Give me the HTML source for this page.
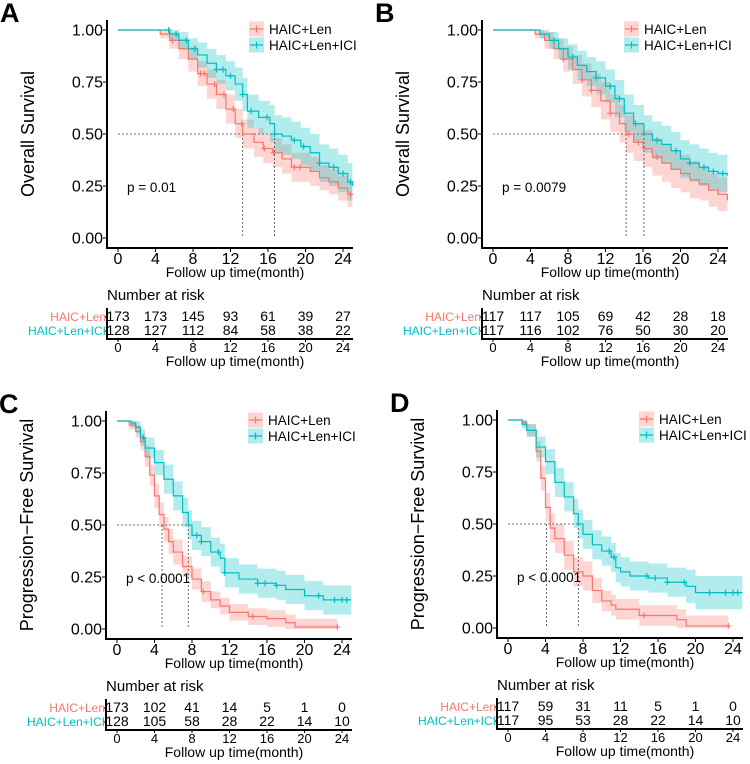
<!DOCTYPE html>
<html><head><meta charset="utf-8"><style>
body{margin:0;background:#fff}
svg{display:block;font-family:"Liberation Sans",sans-serif}
</style></head><body>
<svg id="chart" width="750" height="764" viewBox="0 0 750 764" xmlns="http://www.w3.org/2000/svg"></svg>
<script>
const xTicks=[0,4,8,12,16,20,24];
const yTicks=[0,0.25,0.5,0.75,1];
const yTickLabels=["0.00","0.25","0.50","0.75","1.00"];
const groupNames=["HAIC+Len","HAIC+Len+ICI"];
// Panel A OS
const aLenT=[0,4.5,5.5,6.5,7.5,8.5,9.5,10.5,11.5,12.5,13.3,14.5,15.5,16.5,17.5,18.5,20.5,21.5,22.5,23.5,24.5,25];
const aLenS=[1,0.98,0.95,0.91,0.86,0.79,0.74,0.69,0.62,0.55,0.50,0.46,0.43,0.41,0.38,0.34,0.32,0.29,0.27,0.24,0.21,0.21];
const aLenW=[0,0.02,0.04,0.05,0.06,0.06,0.07,0.07,0.07,0.07,0.07,0.07,0.07,0.07,0.07,0.07,0.07,0.06,0.06,0.06,0.06,0.06];
const aIciT=[0,5.5,6.5,7.5,8.5,9.5,10.5,11.5,12.5,13.3,13.8,15,16.2,16.7,17.5,18.5,19.5,20.5,21.5,22.5,23.5,24.5,25];
const aIciS=[1,0.98,0.95,0.91,0.88,0.84,0.81,0.78,0.74,0.69,0.61,0.58,0.55,0.50,0.49,0.47,0.44,0.41,0.36,0.34,0.31,0.27,0.25];
const aIciW=[0,0.03,0.04,0.05,0.06,0.07,0.07,0.07,0.08,0.08,0.08,0.08,0.09,0.09,0.09,0.09,0.09,0.09,0.09,0.09,0.09,0.09,0.09];
const aLenC=[5.8,8.8,9.2,10.3,11.3,12.3,13.2,15.6,16.6,18.8,19.4,24.8];
const aIciC=[5.4,6.2,7.3,8.2,10.5,11.2,12,13.3,14.2,15.9,16.7,18.8,19.8,21.5,23,24,24.8];
// Panel B OS
const bLenT=[0,4.5,5.5,6.5,7.5,8.5,9.5,10.5,11.5,12.5,13.5,14.2,15,16,17,18,19,20,21,22,23,24,25];
const bLenS=[1,0.98,0.95,0.91,0.86,0.81,0.76,0.71,0.66,0.60,0.55,0.50,0.46,0.43,0.39,0.36,0.33,0.31,0.28,0.26,0.23,0.21,0.18];
const bLenW=[0,0.02,0.04,0.05,0.06,0.07,0.08,0.08,0.09,0.09,0.09,0.09,0.09,0.09,0.09,0.09,0.09,0.09,0.09,0.08,0.08,0.08,0.08];
const bIciT=[0,5,6,7,8,9,10,11,12,13,14,15,16.1,17,18,19,20,21,22,23,24,25];
const bIciS=[1,0.98,0.95,0.91,0.87,0.83,0.80,0.77,0.73,0.67,0.60,0.55,0.50,0.47,0.45,0.42,0.38,0.36,0.34,0.32,0.31,0.30];
const bIciW=[0,0.02,0.04,0.05,0.06,0.07,0.07,0.08,0.08,0.09,0.09,0.09,0.09,0.09,0.09,0.09,0.09,0.09,0.09,0.09,0.09,0.09];
const bLenC=[7.5,9.5,10.5,12.5,14.5,15.5,17.5];
const bIciC=[6.5,8.5,11,12.5,13.5,15.2,17.5,19.5,21,22.5,23.5,24.5];
// Panel C PFS
const cLenT=[0,1.3,2,2.5,3,3.5,4,4.5,5,5.5,6,7,8,9,10,11,12,14,16,18,19,23.5];
const cLenS=[1,0.98,0.95,0.90,0.83,0.74,0.64,0.55,0.48,0.42,0.37,0.30,0.24,0.18,0.14,0.11,0.08,0.06,0.05,0.03,0.01,0.01];
const cLenW=[0,0.02,0.03,0.04,0.05,0.05,0.06,0.06,0.06,0.06,0.06,0.05,0.05,0.05,0.04,0.04,0.04,0.04,0.04,0.04,0.04,0.04];
const cIciT=[0,1.5,2,2.5,3,4,5,6,7,7.6,8,9,10,11,11.5,13,15,17,18,20,22,25];
const cIciS=[1,0.99,0.97,0.92,0.87,0.80,0.72,0.64,0.56,0.50,0.45,0.42,0.37,0.34,0.27,0.24,0.22,0.21,0.19,0.16,0.14,0.14];
const cIciW=[0,0.02,0.03,0.04,0.05,0.06,0.07,0.07,0.07,0.07,0.07,0.07,0.07,0.07,0.07,0.07,0.07,0.07,0.07,0.07,0.07,0.07];
const cLenC=[9.2,14.5,23.5];
const cIciC=[2.8,8.5,9,10.8,11.5,15,15.8,17,21.5,23.2,24,24.5];
// Panel D PFS
const dLenT=[0,1.5,2,3,3.5,4,4.5,5,6,7,8,9,10,11,11.5,14,18,19,23.5];
const dLenS=[1,0.99,0.95,0.85,0.72,0.58,0.48,0.43,0.35,0.27,0.25,0.18,0.13,0.11,0.09,0.06,0.04,0.01,0.01];
const dLenW=[0,0.02,0.03,0.05,0.06,0.07,0.07,0.07,0.07,0.07,0.07,0.06,0.05,0.05,0.05,0.05,0.05,0.05,0.05];
const dIciT=[0,1.5,2,3,4,5,6,7,7.5,8,9,10,11,11.5,12,13,15,17,19,20,25];
const dIciS=[1,0.98,0.95,0.87,0.80,0.70,0.63,0.55,0.50,0.45,0.40,0.37,0.34,0.29,0.27,0.25,0.24,0.22,0.20,0.17,0.17];
const dIciW=[0,0.02,0.03,0.05,0.06,0.07,0.07,0.07,0.07,0.07,0.07,0.07,0.07,0.07,0.07,0.07,0.07,0.07,0.08,0.08,0.08];
const dLenC=[14.5,23.5];
const dIciC=[10.8,11.3,14.8,15.7,17,18.8,21.5,23.2,24,24.5];
// risk tables
const aRiskLen=[173,173,145,93,61,39,27], aRiskIci=[128,127,112,84,58,38,22];
const bRiskLen=[117,117,105,69,42,28,18], bRiskIci=[117,116,102,76,50,30,20];
const cRiskLen=[173,102,41,14,5,1,0], cRiskIci=[128,105,58,28,22,14,10];
const dRiskLen=[117,59,31,11,5,1,0], dRiskIci=[117,95,53,28,22,14,10];

const RED="#F8766D", TEAL="#00BFC4";
const svg=document.getElementById('chart');
const NS="http://www.w3.org/2000/svg";
function mk(tag,attrs,parent,text){const e=document.createElementNS(NS,tag);for(const k in attrs)e.setAttribute(k,attrs[k]);if(text!==undefined)e.textContent=text;(parent||svg).appendChild(e);return e;}

function panel(letter,x0,y1,ytitle,pText,curves,medians,riskLen,riskIci){
  const g=mk('g',{});
  
  
  const sx=t=>x0+t*9.375;
  const sy=s=>y1+(1-s)*208;
  const yb=sy(0)+10, xl=x0-11, xr=x0+235;
  let t=mk('text',{x:x0-118,y:y1-8,'font-size':27,'font-weight':'bold',fill:'#000'},g,letter);
  
  curves.forEach(c=>{
    let up='',lo='';
    for(let i=0;i<c.t.length;i++){
      const tn=i<c.t.length-1?c.t[i+1]:Math.min(c.t[i],25);
      const u=Math.min(1,c.s[i]+c.w[i]), l=Math.max(0,c.s[i]-c.w[i]);
      up+=`L${sx(c.t[i])},${sy(u)}L${sx(tn)},${sy(u)}`;
      lo=`L${sx(tn)},${sy(l)}L${sx(c.t[i])},${sy(l)}`+lo;
    }
    const p=mk('path',{d:'M'+up.slice(1)+lo+'Z',fill:c.col,'fill-opacity':0.3,stroke:'none'},g);
    
  });
  const dl=mk('g',{stroke:'#444','stroke-width':0.8,'stroke-dasharray':'2,2'},g);
  
  mk('line',{x1:sx(0),x2:sx(Math.max(...medians)),y1:sy(0.5),y2:sy(0.5)},dl);
  medians.forEach(m=>mk('line',{x1:sx(m),x2:sx(m),y1:sy(0.5),y2:sy(0)},dl));
  curves.forEach(c=>{
    let d=`M${sx(c.t[0])},${sy(c.s[0])}`;
    for(let i=1;i<c.t.length;i++){d+=`H${sx(c.t[i])}V${sy(c.s[i])}`;}
    const p=mk('path',{d,fill:'none',stroke:c.col,'stroke-width':1.2},g);
    
    c.c.forEach(ct=>{
      let s=c.s[0];for(let i=0;i<c.t.length;i++)if(c.t[i]<=ct)s=c.s[i];
      const m=mk('path',{d:`M${sx(ct)-3},${sy(s)}h6M${sx(ct)},${sy(s)-3}v6`,stroke:c.col,'stroke-width':1.2},g);
      
    });
  });
  const ax=mk('path',{d:`M${xl},${y1-10}V${yb}H${xr}`,fill:'none',stroke:'#000','stroke-width':2},g);
  
  yTicks.forEach((v,i)=>{
    mk('line',{x1:xl-4,x2:xl,y1:sy(v),y2:sy(v),stroke:'#000'},g);
    const tt=mk('text',{x:xl-4,y:sy(v)+5.5,'font-size':16,'text-anchor':'end',fill:'#000'},g,yTickLabels[i]);
    
  });
  xTicks.forEach(v=>{
    mk('line',{x1:sx(v),x2:sx(v),y1:yb,y2:yb+4,stroke:'#000'},g);
    const tt=mk('text',{x:sx(v),y:yb+16,'font-size':16,'text-anchor':'middle',fill:'#000'},g,v);
    
  });
  t=mk('text',{x:x0+117,y:yb+29,'font-size':14,'text-anchor':'middle'},g,'Follow up time(month)');
  
  t=mk('text',{x:0,y:0,'font-size':18,'text-anchor':'middle',transform:`translate(${x0-84},${sy(0.5)}) rotate(-90)`},g,ytitle);
  
  t=mk('text',{x:x0+9,y:sy(0.22),'font-size':13.5},g,pText);
  
  [0,1].forEach(i=>{
    const ly=y1-1+i*16, lx=x0+131;
    const lg=mk('g',{},g);
    
    const col=i?TEAL:RED;
    mk('rect',{x:lx,y:ly-7.5,width:15,height:15,fill:col,'fill-opacity':0.3},lg);
    mk('path',{d:`M${lx+1},${ly}h13M${lx+7.5},${ly-3.5}v7`,stroke:col,'stroke-width':1.2},lg);
    mk('text',{x:lx+20,y:ly+5,'font-size':13.5},lg,groupNames[i]);
  });
  const ry=y1+270;
  t=mk('text',{x:xl,y:ry,'font-size':15},g,'Number at risk');
  
  [riskLen,riskIci].forEach((arr,r)=>{
    const yy=ry+21+r*14, col=r?TEAL:RED;
    const lb=mk('text',{x:xl-1,y:yy,'font-size':12,'text-anchor':'end',fill:col},g,groupNames[r]);
    
    mk('line',{x1:xl-2,x2:xl,y1:yy-4,y2:yy-4,stroke:'#000'},g);
    arr.forEach((v,i)=>{
      const tt=mk('text',{x:sx(xTicks[i]),y:yy,'font-size':14,'text-anchor':'middle'},g,v);
      
    });
  });
  const rb=ry+39;
  mk('path',{d:`M${xl},${ry+8}V${rb}H${xr}`,fill:'none',stroke:'#000','stroke-width':2},g);
  xTicks.forEach(v=>{
    mk('line',{x1:sx(v),x2:sx(v),y1:rb,y2:rb+3,stroke:'#000'},g);
    mk('text',{x:sx(v),y:rb+13,'font-size':13,'text-anchor':'middle'},g,v);
  });
  t=mk('text',{x:x0+117,y:rb+27,'font-size':14,'text-anchor':'middle'},g,'Follow up time(month)');
  
}
panel('A',118,30,'Overall Survival','p = 0.01',
 [{t:aLenT,s:aLenS,w:aLenW,c:aLenC,col:RED},{t:aIciT,s:aIciS,w:aIciW,c:aIciC,col:TEAL}],[13.3,16.7],aRiskLen,aRiskIci);
panel('B',493,30,'Overall Survival','p = 0.0079',
 [{t:bLenT,s:bLenS,w:bLenW,c:bLenC,col:RED},{t:bIciT,s:bIciS,w:bIciW,c:bIciC,col:TEAL}],[14.2,16.1],bRiskLen,bRiskIci);
panel('C',117,421,'Progression\u2212Free Survival','p < 0.0001',
 [{t:cLenT,s:cLenS,w:cLenW,c:cLenC,col:RED},{t:cIciT,s:cIciS,w:cIciW,c:cIciC,col:TEAL}],[4.8,7.6],cRiskLen,cRiskIci);
panel('D',508,420,'Progression\u2212Free Survival','p < 0.0001',
 [{t:dLenT,s:dLenS,w:dLenW,c:dLenC,col:RED},{t:dIciT,s:dIciS,w:dIciW,c:dIciC,col:TEAL}],[4.1,7.5],dRiskLen,dRiskIci);
</script>
</body></html>
